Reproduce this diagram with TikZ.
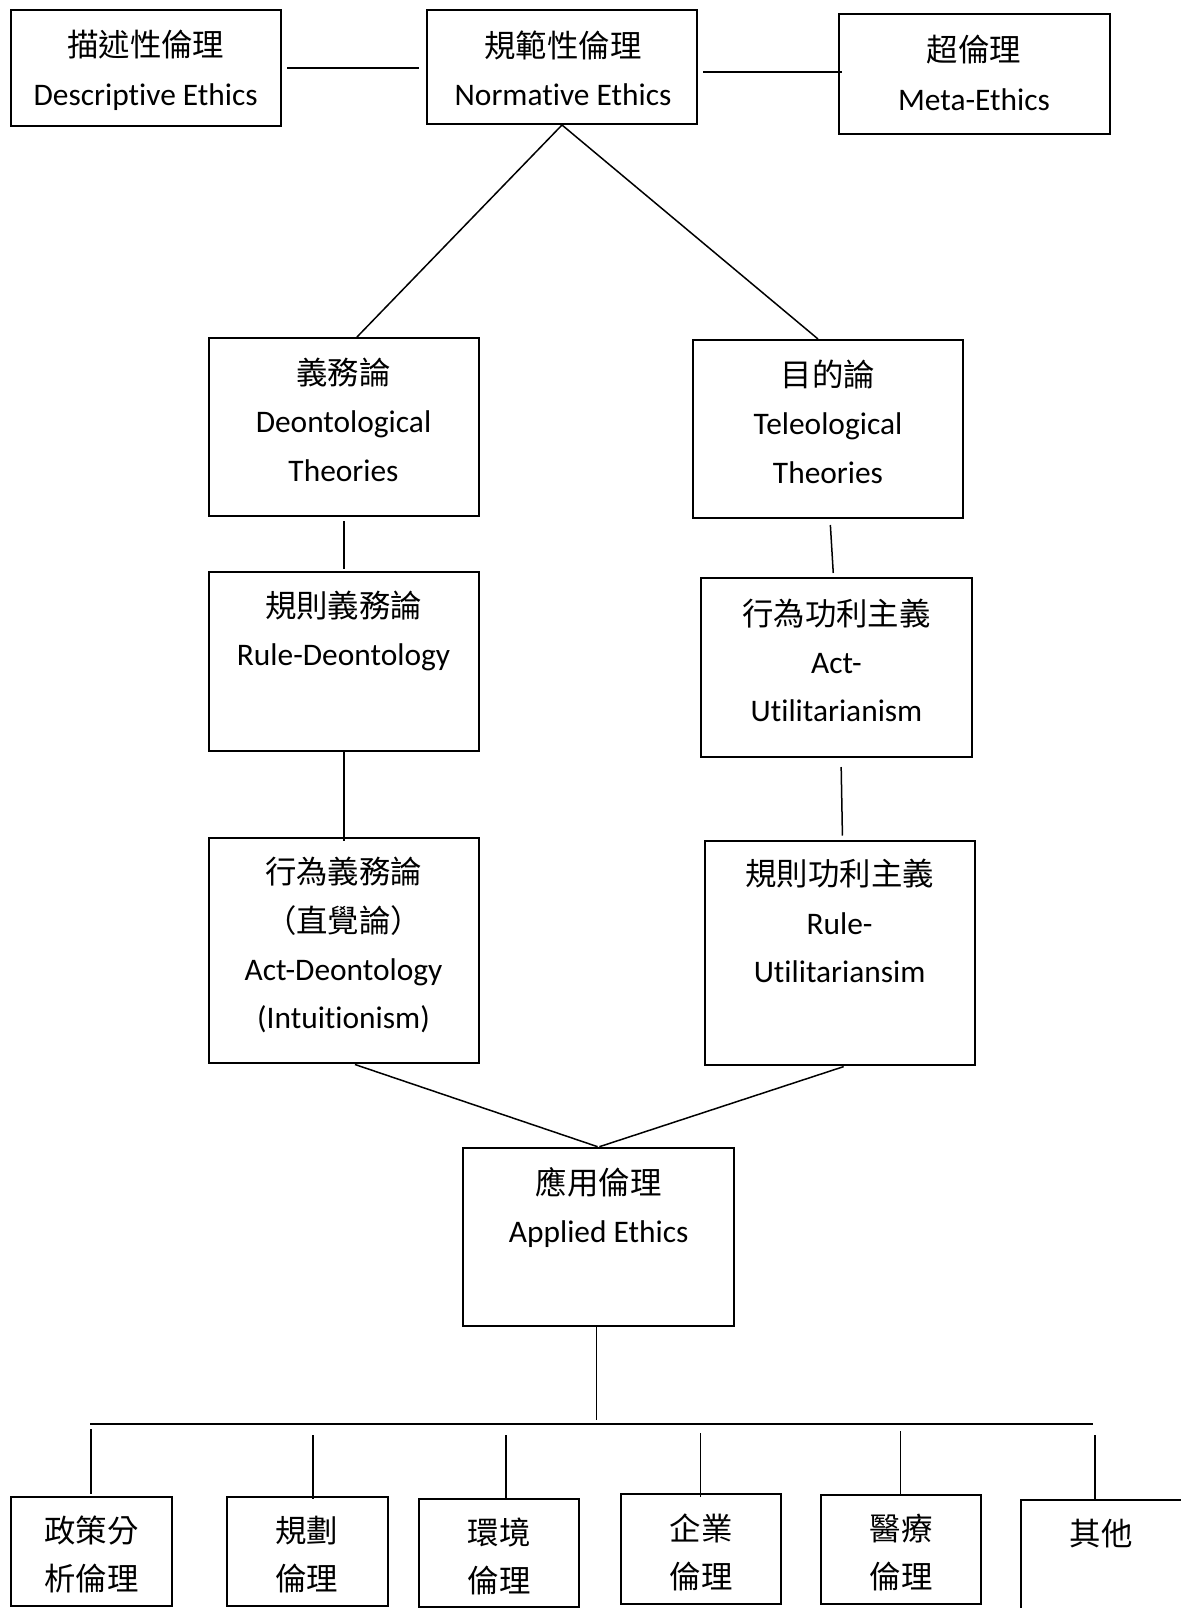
\documentclass[tikz,border=0pt]{standalone}
\usepackage{fontspec}
\setmainfont{Carlito}[Ligatures=NoCommon]
\newfontfamily\cjk{Noto Sans CJK TC}
\begin{document}
\begin{tikzpicture}[x=1pt,y=-1pt,
  box/.style={draw, line width=2pt, inner sep=0pt},
  txt/.style={align=center, inner sep=0pt, font=\fontsize{31.4}{48.3}\selectfont},
  conn/.style={line width=1.5pt}]
\fill[white] (0,0) rectangle (1180,1608);
\useasboundingbox (0,0) rectangle (1180,1608);
% boxes
\node[box, minimum width=270.5pt, minimum height=116pt] (desc) at (145.75,68) {};
\node[box, minimum width=270pt, minimum height=114pt] (norm) at (562,67) {};
\node[box, minimum width=271pt, minimum height=120pt] (meta) at (974.5,74) {};
\node[box, minimum width=270pt, minimum height=178pt] (deon) at (344,427) {};
\node[box, minimum width=270pt, minimum height=178pt] (tele) at (828,429) {};
\node[box, minimum width=270pt, minimum height=179pt] (ruled) at (344,661.5) {};
\node[box, minimum width=271pt, minimum height=179pt] (actu) at (836.5,667.5) {};
\node[box, minimum width=270pt, minimum height=225pt] (actd) at (344,950.5) {};
\node[box, minimum width=270pt, minimum height=224pt] (ruleu) at (840,952.5) {};
\node[box, minimum width=271pt, minimum height=178pt] (appl) at (598.5,1237) {};
\node[box, minimum width=161pt, minimum height=109pt] (b1) at (91.5,1551.5) {};
\node[box, minimum width=161pt, minimum height=109pt] (b2) at (307.5,1551.5) {};
\node[box, minimum width=160pt, minimum height=108pt] (b3) at (499,1553) {};
\node[box, minimum width=160pt, minimum height=110pt] (b4) at (701,1549) {};
\node[box, minimum width=160pt, minimum height=109pt] (b5) at (901,1549.5) {};
\node[box, minimum width=161pt, minimum height=115pt] (b6) at (1101.5,1557.5) {};
% texts
\node[txt] (desc-t) at (145.7,70.2) {{\cjk 描述性倫理}\\Descriptive Ethics};
\node[txt] (norm-t) at (563,68.2) {{\cjk 規範性倫理}\\Normative Ethics};
\node[txt] (meta-t) at (974,72.8) {{\cjk 超倫理}\\Meta-Ethics};
\node[txt] (deon-t) at (343.5,419.8) {{\cjk 義務論}\\Deontological\\Theories};
\node[txt] (tele-t) at (828,421.8) {{\cjk 目的論}\\Teleological\\Theories};
\node[txt] (ruled-t) at (343.5,631) {{\cjk 規則義務論}\\Rule-Deontology};
\node[txt] (actu-t) at (836.5,660.3) {{\cjk 行為功利主義}\\Act-\\Utilitarianism};
\node[txt] (actd-t) at (343.5,945.2) {{\cjk 行為義務論}\\{\cjk （直覺論）}\\Act-Deontology\\(Intuitionism)};
\node[txt] (ruleu-t) at (839.6,921) {{\cjk 規則功利主義}\\Rule-\\Utilitariansim};
\node[txt] (appl-t) at (598.7,1207.5) {{\cjk 應用倫理}\\Applied Ethics};
\node[txt] (b1-t) at (91.5,1554.7) {\cjk 政策分\\\cjk 析倫理};
\node[txt] (b2-t) at (306.5,1554.7) {\cjk 規劃\\\cjk 倫理};
\node[txt] (b3-t) at (499,1556.3) {\cjk 環境\\\cjk 倫理};
\node[txt] (b4-t) at (701,1552.2) {\cjk 企業\\\cjk 倫理};
\node[txt] (b5-t) at (901,1552.2) {\cjk 醫療\\\cjk 倫理};
\node[txt] (b6-t) at (1101,1533.7) {\cjk 其他};
% connectors
\draw[conn, shorten <=5pt, shorten >=7pt] (desc.east) -- (desc.east -| norm.west);
\draw[conn, shorten <=5pt, shorten >=-4pt] ([yshift=-5pt]norm.east) -- ([yshift=-5pt]norm.east -| meta.west);
\draw[conn] (norm.south) -- ([xshift=13pt]deon.north);
\draw[conn] (norm.south) -- ([xshift=-10pt]tele.north);
\draw[conn, shorten <=4pt, shorten >=2pt] (deon.south) -- (ruled.north);
\draw[conn, shorten <=6pt, shorten >=4pt] ([xshift=2pt]tele.south) -- ([xshift=-3pt]actu.north);
\draw[conn, shorten >=-4pt] (ruled.south) -- (actd.north);
\draw[conn, shorten <=9pt, shorten >=4pt] ([xshift=4.5pt]actu.south) -- ([xshift=2.5pt]ruleu.north);
\draw[conn, shorten <=1.5pt, shorten >=1pt] ([xshift=9.5pt]actd.south) -- (appl.north);
\draw[conn, shorten <=3.5pt, shorten >=1pt] ([xshift=7pt]ruleu.south) -- (appl.north);
% bus
\coordinate (barL) at (90,1424);
\coordinate (barR) at (1093,1424);
\draw[conn] (barL) -- (barR);
\draw[conn, shorten >=4pt] ([xshift=-2pt]appl.south) -- ([xshift=-2pt]appl.south |- barL);
\coordinate (d1) at (91,1429);
\coordinate (d2) at (313,1435);
\coordinate (d3) at (506,1435);
\coordinate (d4) at (700.5,1433);
\coordinate (d5) at (900.7,1431);
\coordinate (d6) at (1095,1435);
\draw[conn, shorten >=2pt] (d1) -- (d1 |- b1.north);
\draw[conn, shorten >=-3pt] (d2) -- (d2 |- b2.north);
\draw[conn] (d3) -- (d3 |- b3.north);
\draw[conn, shorten >=-4pt] (d4) -- (d4 |- b4.north);
\draw[conn] (d5) -- (d5 |- b5.north);
\draw[conn] (d6) -- (d6 |- b6.north);
\end{tikzpicture}
\end{document}
